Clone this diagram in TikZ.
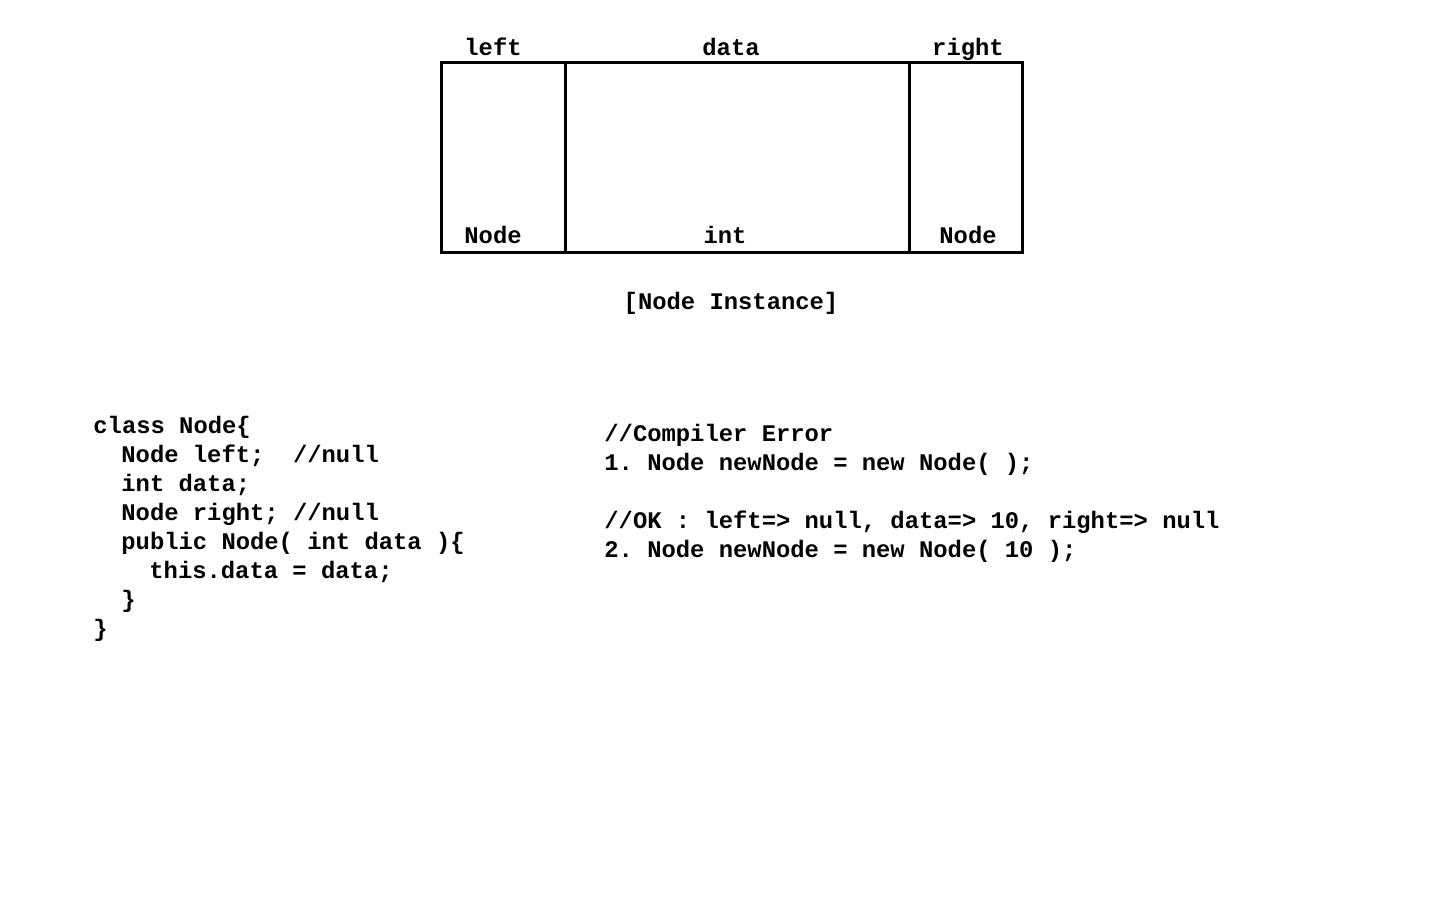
\documentclass[tikz,border=0pt]{standalone}
\usepackage{fontspec}
\setmonofont{Liberation Mono}
\begin{document}
\begin{tikzpicture}[x=0.5pt,y=-0.5pt,
  txt/.style={font=\ttfamily\bfseries\fontsize{11.92}{14.5}\selectfont, inner sep=0pt},
  lbl/.style={txt, anchor=base},
  codeline/.style={txt, anchor=base west},
  cell/.style={draw, line width=1.5pt}]
\useasboundingbox (0,0) rectangle (1440,900);
% node instance box
\draw[cell] (441,62) rectangle (1022,252);
\coordinate (d1t) at (565,62);
\coordinate (d1b) at (565,252);
\coordinate (d2t) at (909,62);
\coordinate (d2b) at (909,252);
\draw[cell] (d1t) -- (d1b);
\draw[cell] (d2t) -- (d2b);
\node[lbl] (lleft) at (493,55) {left};
\node[lbl] (ldata) at (731,55) {data};
\node[lbl] (lright) at (968,55) {right};
\node[lbl] (tleft) at (493,243) {Node};
\node[lbl] (tdata) at (725,243) {int};
\node[lbl] (tright) at (968,243) {Node};
\node[lbl] (cap) at (731,309) {[Node Instance]};
% class code
\node[codeline] (c1) at (93,433) {class Node\{};
\node[codeline] (c2) at (121,462) {Node left;\ \ //null};
\node[codeline] (c3) at (121,491) {int data;};
\node[codeline] (c4) at (121,520) {Node right; //null};
\node[codeline] (c5) at (121,549) {public Node( int data )\{};
\node[codeline] (c6) at (149,578) {this.data = data;};
\node[codeline] (c7) at (121,607) {\}};
\node[codeline] (c8) at (93,636) {\}};
% usage
\node[codeline] (u1) at (604,441) {//Compiler Error};
\node[codeline] (u2) at (604,470) {1. Node newNode = new Node( );};
\node[codeline] (u3) at (604,528) {//OK : left=> null, data=> 10, right=> null};
\node[codeline] (u4) at (604,557) {2. Node newNode = new Node( 10 );};
\end{tikzpicture}
\end{document}
